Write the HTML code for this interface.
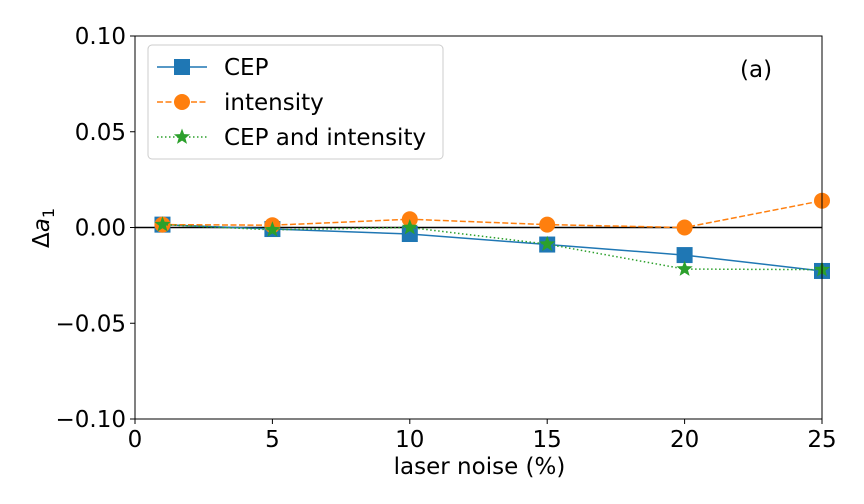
<!DOCTYPE html>
<html><head><meta charset="utf-8"><style>
body{margin:0;background:#fff;}
svg{display:block;font-family:"DejaVu Sans","Liberation Sans",sans-serif;}
</style></head><body>
<svg id="chart" width="864" height="504" viewBox="0 0 864 504">
</svg>
<script>
const xValues=[1,5,10,15,20,25];
const cepValues=[0.0015,-0.0008,-0.0034,-0.0089,-0.0144,-0.0227];
const intensityValues=[0.0015,0.0012,0.0043,0.0015,0.0,0.014];
const bothValues=[0.0015,-0.0012,0.0,-0.0087,-0.0217,-0.0220];
const xTicks=[0,5,10,15,20,25];
const yTicks=[0.10,0.05,0.00,-0.05,-0.10];
const yTickLabels=["0.10","0.05","0.00","\u22120.05","\u22120.10"];

const L=135,R=822,T=36,B=419;
const FS=23;
const xs=v=>L+(v-0)/(25-0)*(R-L);
const ys=v=>T+(0.10-v)/(0.20)*(B-T);
const svg=document.getElementById('chart');
const NS="http://www.w3.org/2000/svg";
function mk(tag,attrs,parent){const e=document.createElementNS(NS,tag);for(const k in attrs)e.setAttribute(k,attrs[k]);(parent||svg).appendChild(e);return e;}

let z=mk('line',{x1:L,x2:R,y1:ys(0),y2:ys(0),stroke:'#000','stroke-width':1.5});



xTicks.forEach(t=>{
  const g=mk('g',{});
  
  
  mk('line',{x1:xs(t),x2:xs(t),y1:B,y2:B+5,stroke:'#000','stroke-width':1},g);
  const tx=mk('text',{x:xs(t),y:B+28,'text-anchor':'middle','font-size':FS},g);tx.textContent=t;
});
yTicks.forEach((t,i)=>{
  const g=mk('g',{});
  
  
  mk('line',{x1:L-5,x2:L,y1:ys(t),y2:ys(t),stroke:'#000','stroke-width':1},g);
  const tx=mk('text',{x:L-9,y:ys(t)+8,'text-anchor':'end','font-size':FS},g);tx.textContent=yTickLabels[i];
});

function square(g,x,y,c){mk('rect',{x:x-8,y:y-8,width:16,height:16,fill:c},g);}
function circle(g,x,y,c){mk('circle',{cx:x,cy:y,r:8,fill:c},g);}
function star(g,x,y,c){let p=[];for(let i=0;i<10;i++){const r=i%2?3.6:8.5;const a=-Math.PI/2+i*Math.PI/5;p.push((x+r*Math.cos(a)).toFixed(1)+','+(y+r*Math.sin(a)).toFixed(1));}mk('polygon',{points:p.join(' '),fill:c},g);}

function series(name,vals,color,dash,marker){
  const g=mk('g',{});
  
  
  mk('polyline',{points:vals.map((v,i)=>xs(xValues[i])+','+ys(v)).join(' '),fill:'none',stroke:color,'stroke-width':1.5,'stroke-dasharray':dash},g);
  vals.forEach((v,i)=>marker(g,xs(xValues[i]),ys(v),color));
}
series('cep',cepValues,'#1f77b4','',square);
series('intensity',intensityValues,'#ff7f0e','6 2.5',circle);
series('cep-and-intensity',bothValues,'#2ca02c','1.5 2.5',star);

let f=mk('rect',{x:L,y:T,width:R-L,height:B-T,fill:'none',stroke:'#000','stroke-width':1});



const lg=mk('g',{});


mk('rect',{x:148,y:45,width:295,height:114,rx:4,fill:'#fff',stroke:'#ccc','stroke-width':1},lg);
const entries=[['CEP','#1f77b4','',square],['intensity','#ff7f0e','6 2.5',circle],['CEP and intensity','#2ca02c','1.5 2.5',star]];
entries.forEach((e,i)=>{
  const y=67+i*35;
  const g=mk('g',{},lg);
  
  
  mk('line',{x1:157,x2:207,y1:y,y2:y,stroke:e[1],'stroke-width':1.5,'stroke-dasharray':e[2]},g);
  e[3](g,182,y,e[1]);
  const t=mk('text',{x:224,y:y+8,'font-size':FS},g);t.textContent=e[0];
});

let a=mk('text',{x:740,y:77,'font-size':FS});a.textContent='(a)';



let xl=mk('text',{x:(L+R)/2+1,y:474,'text-anchor':'middle','font-size':FS});xl.textContent='laser noise (%)';



let yl=mk('text',{x:0,y:0,'font-size':FS,transform:'translate(49,228) rotate(-90)','text-anchor':'middle'});
yl.innerHTML='Δ<tspan font-style="italic">a</tspan><tspan font-size="16" dy="5">1</tspan>';


</script>
</body></html>
